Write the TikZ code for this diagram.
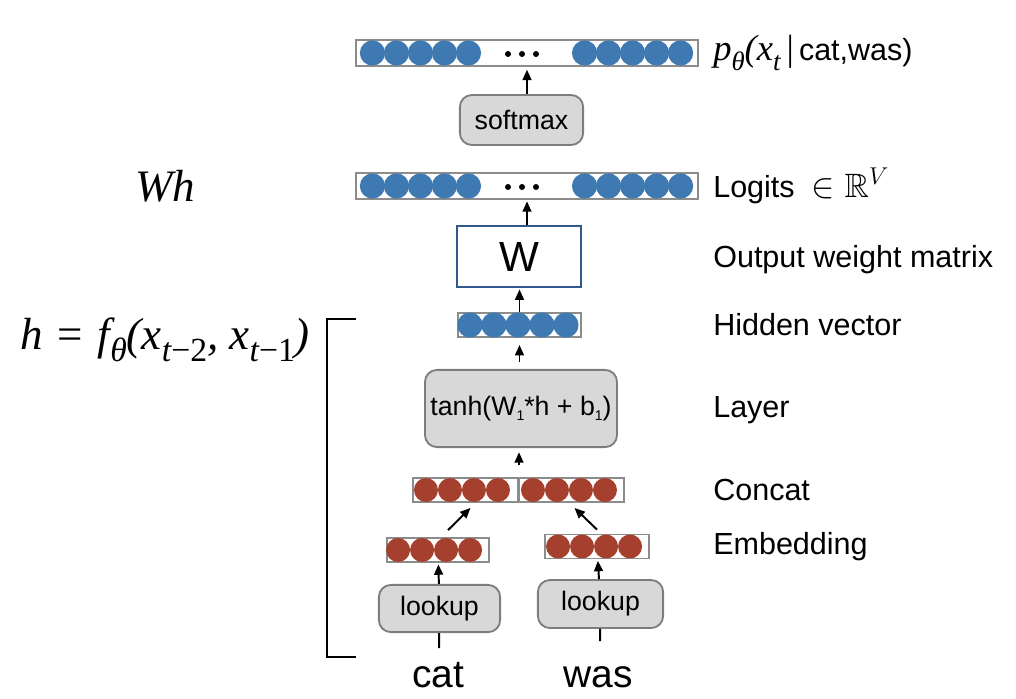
\documentclass[tikz,border=0pt]{standalone}
\usepackage{amssymb}
\usepackage{fontspec}
\setmainfont{Liberation Sans}
\newfontfamily\tms{Liberation Serif}
\usetikzlibrary{positioning,calc,arrows.meta}
\definecolor{ballblue}{RGB}{62,121,178}
\definecolor{ballred}{RGB}{166,64,46}
\definecolor{barline}{RGB}{140,140,140}
\definecolor{boxline}{RGB}{125,125,125}
\definecolor{boxfill}{RGB}{216,216,216}
\definecolor{wline}{RGB}{48,88,140}
\newcommand{\subone}{\raisebox{-0.35ex}{\fontsize{10}{11}\selectfont 1}}
\newcommand{\lowsub}[2]{\raisebox{-0.28em}{\fontsize{#1}{#1}\selectfont #2}}
\tikzset{
  arr/.style={-{Triangle[length=2.6mm,width=2.2mm]},line width=1.4pt},
  bar/.style args={#1,#2}{
  draw=barline,
  line width=1.3pt,
  fill=white,
  inner sep=0pt,
  minimum width=#1 cm,
  minimum height=#2 cm,
  },
  blueball/.style={circle,fill=ballblue,minimum size=0.63cm,inner sep=0pt},
  redball/.style={circle,fill=ballred,minimum size=0.6cm,inner sep=0pt},
  opbox/.style args={#1,#2}{
  rounded corners=3mm,
  draw=boxline,
  fill=boxfill,
  line width=1.3pt,
  minimum width=#1 cm,
  minimum height=#2 cm,
  font=\fontsize{19}{23}\selectfont
  },
  lbl/.style={anchor=west,inner sep=0pt,font=\fontsize{21.7}{26}\selectfont},
  bigmath/.style={font=\tms\itshape\fontsize{32}{36}\selectfont},
  word/.style={anchor=base,font=\fontsize{27.7}{32}\selectfont}
}

\begin{document}
\begin{tikzpicture}[x=0.025cm,y=-0.025cm]
  \useasboundingbox (0,0) rectangle (1016,698);

  % vectors
  \node [bar={8.53,0.65}] (probs) at (527,53) {};
  \node [bar={8.53,0.65}] (logits) at (527,186) {};
  \node [bar={3.08,0.6}] (hidden) at (519.5,325) {};
  \node [bar={2.63,0.6}] (cat1) at (465.5,490) {};
  \node [bar={2.63,0.6}] (cat2) at (571.5,490) {};
  \node [bar={2.55,0.6}] (emb1) at (438,550) {};
  \node [bar={2.6,0.6}] (emb2) at (597,546.5) {};

  \foreach \v in {probs,logits}{
    \foreach \i in {0,...,4}{
      \node [blueball] at ($(\v.west)+(17+24*\i,0)$) {};
      \node [blueball] at ($(\v.east)+(-18-24*\i,0)$) {};
    }
    \foreach \d in {-19,-5,9}
      \fill ($(\v)+(\d,1)$) circle (3);
  }
  \foreach \i in {0,...,4}
    \node [blueball] at ($(hidden.west)+(13+24*\i,0)$) {};
  \foreach \i in {0,...,3}{
    \node [redball] at ($(cat1.west)+(14+24*\i,0)$) {};
    \node [redball] at ($(cat2.west)+(15+24*\i,0)$) {};
    \node [redball] at ($(emb1.west)+(12+24*\i,0)$) {};
    \node [redball] at ($(emb2.west)+(14+24*\i,0)$) {};
  }

  % operations
  \node [opbox={3.08,1.25}] (softmax) at (521.5,120) {softmax};
  \node [draw=wline,line width=1.3pt,fill=white,minimum width=3.1cm,minimum height=1.53cm,
         font=\fontsize{30}{34}\selectfont] (W) at (519,256.5) {W};
  \node [opbox={4.8,1.93}] (layer) at (521,408.5) {tanh(W\subone*h + b\subone)};
  \node [opbox={3.03,1.18}] (lookup1) at (439.5,608.5) {lookup};
  \node [opbox={3.13,1.2}] (lookup2) at (600.5,604) {lookup};

  \node [word] (cat) at (438,687) {cat};
  \node [word] (was) at (598,687) {was};
  \coordinate (catin) at (439,648);
  \coordinate (wasin) at (600,641);
  \coordinate (join) at (519,465);

  \draw [arr,shorten >=2pt] (softmax.north -| probs) -- (probs.south);
  \draw [arr,shorten >=1pt] (W.north -| logits) -- (logits.south);
  \draw [arr,shorten >=1pt] (hidden.north) -- (hidden.north |- W.south);
  \draw [arr,shorten <=5pt,shorten >=5pt] (hidden.south |- layer.north) -- (hidden.south);
  \draw [arr,shorten >=3pt] (join) -- (join |- layer.south);
  \draw [arr] ($(emb1.north)+(10,-7)$) -- ($(cat1.south)+(5,5)$);
  \draw [arr] ($(emb2.north)+(0,-4)$) -- ($(cat2.south)+(3,5)$);
  \draw [arr,shorten >=1pt] (lookup1) -- (emb1);
  \draw [arr,shorten >=1pt] (lookup2) -- (emb2);
  \draw [line width=1.4pt] (lookup1) -- (catin);
  \draw [line width=1.4pt] (lookup2) -- (wasin);

  % bracket
  \draw [line width=1.6pt] (356,319) -| (327,657) -- (356,657);

  % labels
  \node [lbl] (lprobs) at (713,53)
    {{\tms\itshape\fontsize{26}{28}\selectfont p\lowsub{19}{θ}(x\lowsub{19}{t}\,\upshape|}\,cat,was)};
  \node [lbl] (llogits) at (713,186) {Logits \ \fontsize{24}{26}\selectfont$\in\mathbb{R}^V$};
  \node [lbl] (lW) at (713,260) {Output weight matrix};
  \node [lbl] (lhidden) at (713,325) {Hidden vector};
  \node [lbl] (llayer) at (713,410) {Layer};
  \node [lbl] (lconcat) at (713,490) {Concat};
  \node [lbl] (lemb) at (713,547) {Embedding};

  \node [bigmath] (wh) at (165,186) {Wh};
  \node [bigmath] (hdef) at (165,340)
    {h\,\,{\upshape =}\,\,f\lowsub{24}{θ}(x\lowsub{24}{t{\upshape −2}}, x\lowsub{24}{t{\upshape −1}})};
\end{tikzpicture}
\end{document}
